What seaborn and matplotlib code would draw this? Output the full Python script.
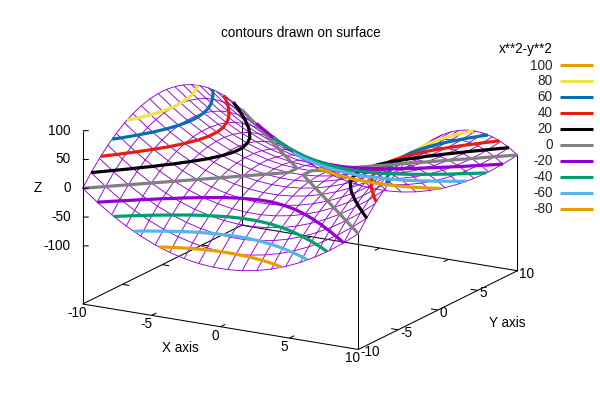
import numpy as np
import seaborn as sns
import matplotlib
matplotlib.use("Agg")
import matplotlib.pyplot as plt
from matplotlib.lines import Line2D
from mpl_toolkits.mplot3d import proj3d

# 20 x 20 sample grid; the surface values are listed for one quadrant and mirrored
half_grid = [-10, -8.947, -7.895, -6.842, -5.789, -4.737, -3.684, -2.632, -1.579, -0.526]
z_quadrant = [
    [0, -19.94, -37.67, -53.19, -66.48, -77.56, -86.43, -93.07, -97.51, -99.72],
    [19.94, 0, -17.73, -33.25, -46.54, -57.62, -66.49, -73.13, -77.57, -79.78],
    [37.67, 17.73, 0, -15.52, -28.81, -39.89, -48.76, -55.40, -59.84, -62.05],
    [53.19, 33.25, 15.52, 0, -13.29, -24.37, -33.24, -39.88, -44.32, -46.53],
    [66.48, 46.54, 28.81, 13.29, 0, -11.08, -19.95, -26.59, -31.03, -33.24],
    [77.56, 57.62, 39.89, 24.37, 11.08, 0, -8.87, -15.51, -19.95, -22.16],
    [86.43, 66.49, 48.76, 33.24, 19.95, 8.87, 0, -6.64, -11.08, -13.29],
    [93.07, 73.13, 55.40, 39.88, 26.59, 15.51, 6.64, 0, -4.44, -6.65],
    [97.51, 77.57, 59.84, 44.32, 31.03, 19.95, 11.08, 4.44, 0, -2.21],
    [99.72, 79.78, 62.05, 46.53, 33.24, 22.16, 13.29, 6.65, 2.21, 0],
]
levels = [100, 80, 60, 40, 20, 0, -20, -40, -60, -80]
level_colors = ["#E69F00", "#F0E442", "#0072B2", "#E51E10", "#000000",
                "#808080", "#9400D3", "#009E73", "#56B4E9", "#E69F00"]
surface_color = "#9400D3"
x_ticks = [-10, -5, 0, 5, 10]
y_ticks = [-10, -5, 0, 5, 10]
z_ticks = [-100, -50, 0, 50, 100]

W, H = 600, 400
sns.set_style("white")
plt.rcParams["font.family"] = ["Liberation Sans", "DejaVu Sans"]
FS = 9.75
palette = sns.color_palette(level_colors)

fig = plt.figure(figsize=(W / 100, H / 100), dpi=100, facecolor="white")
ax = fig.add_axes([-0.5, -0.5, 2, 2], projection="3d", computed_zorder=False, proj_type="ortho")
ax.view_init(elev=16.6, azim=-60)
ax.set_xlim(-10, 10)
ax.set_ylim(-10, 10)
ax.set_zlim(-201, 100)
ax.set_axis_off()
ax.patch.set_alpha(0)
aspect = (318.5, 318.5, 181)


def px(x, y, z):
    ax.apply_aspect()
    u, v, _ = proj3d.proj_transform(x, y, z, ax.get_proj())
    p = ax.transData.transform((u, v))
    return p[0], H - p[1]


# Fit the projection to the plot box of the reference
zoom = 1.0
ax.set_box_aspect(aspect, zoom=zoom)
a = px(-10, -10, -201)
b = px(10, -10, -201)
zoom = 275.6 / (b[0] - a[0])
ax.set_box_aspect(aspect, zoom=zoom)
a = px(-10, -10, -201)
pos = ax.get_position(original=True)
ax.set_position([pos.x0 + (82.7 - a[0]) / W, pos.y0 - (304 - a[1]) / H, pos.width, pos.height])

half = np.array(half_grid, float)
grid = np.concatenate([half, -half[::-1]])
X, Y = np.meshgrid(grid, grid)
q = np.array(z_quadrant, float)
top = np.hstack([q, q[:, ::-1]])
Z = np.vstack([top, top[::-1]])

lw_thin = 0.75
k = dict(color="black", lw=lw_thin, solid_capstyle="butt")
base = -201

# back part of the box
ax.plot([-10, -10], [-10, 10], [base, base], zorder=1, **k)
ax.plot([-10, 10], [10, 10], [base, base], zorder=1, **k)
ax.plot([-10, -10], [10, 10], [base, -20], zorder=1, **k)
for t in x_ticks[1:-1]:
    ax.plot([t, t], [10, 9.4], [base, base], zorder=1, **k)
for t in y_ticks[1:-1]:
    ax.plot([-10, -9.5], [t, t], [base, base], zorder=1, **k)

ax.plot_wireframe(X, Y, Z, color=surface_color, linewidth=0.65, zorder=2)
for i, lev in enumerate(levels):
    if Z.min() < lev < Z.max():
        ax.contour(X, Y, Z, levels=[lev], colors=[palette[i]], linewidths=2.3,
                   linestyles="solid", zorder=3 + i)

# front part of the box
ax.plot([-10, 10], [-10, -10], [base, base], zorder=20, **k)
ax.plot([10, 10], [-10, 10], [base, base], zorder=20, **k)
ax.plot([10, 10], [-10, -10], [base, 0], zorder=20, **k)
ax.plot([10, 10], [10, 10], [base, 0], zorder=20, **k)
ax.plot([-10, -10], [-10, -10], [base, 100], zorder=20, **k)
for t in x_ticks[1:-1]:
    ax.plot([t, t], [-10, -9.4], [base, base], zorder=20, **k)
for t in y_ticks[1:-1]:
    ax.plot([10, 9.5], [t, t], [base, base], zorder=20, **k)
for t in z_ticks:
    ax.plot([-10, -9.67], [-10, -9.81], [t, t], zorder=20, **k)


def label(px_x, px_y, s, ha="center", va="center"):
    fig.text(px_x / W, 1 - px_y / H, s, ha=ha, va=va, fontsize=FS, color="black")


for t in x_ticks:
    p = px(t, -10, base)
    label(p[0] - 5.5, p[1] + 9, str(t))
for t in y_ticks:
    p = px(10, t, base)
    label(p[0] + 2, p[1] + 3, str(t), ha="left")
for t in z_ticks:
    p = px(-10, -10, t)
    label(p[0] - 12, p[1], str(t), ha="right")

label(300.5, 33, "contours drawn on surface")
label(180.7, 347.7, "X axis")
label(507, 322.7, "Y axis")
label(38, 188, "Z")
label(552.5, 48.5, "x**2-y**2", ha="right")

handles = [Line2D([], [], color=palette[i], lw=2.2, solid_capstyle="butt") for i in range(len(levels))]
fig.legend(handles, [str(v) for v in levels], loc="upper right",
           bbox_to_anchor=(593.5 / W, 1 - 58.5 / H), frameon=False, markerfirst=False,
           fontsize=FS, handlelength=2.5, handletextpad=0.52, labelspacing=0.147,
           borderpad=0, borderaxespad=0)

fig.savefig("out.png", dpi=100, facecolor="white")
